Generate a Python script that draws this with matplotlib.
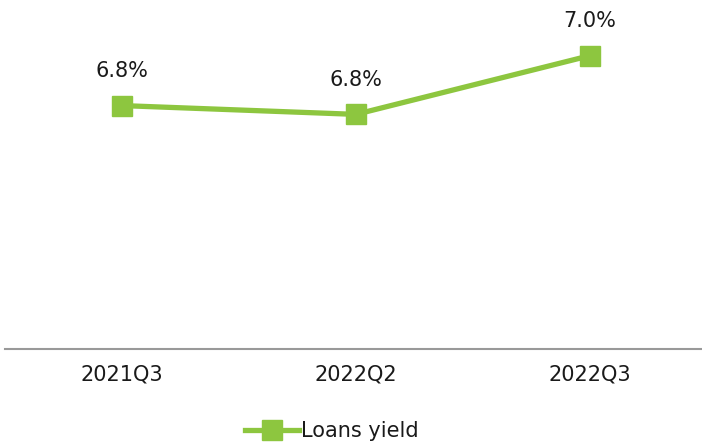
import matplotlib.pyplot as plt
from matplotlib import font_manager

quarters = ['2021Q3', '2022Q2', '2022Q3']
loans_yield = [6.83, 6.80, 7.00]
labels = ['6.8%', '6.8%', '7.0%']

names = {f.name for f in font_manager.fontManager.ttflist}
family = ['Liberation Sans Narrow', 'DejaVu Sans'] if 'Liberation Sans Narrow' in names else ['DejaVu Sans']
plt.rcParams['font.family'] = family

green = '#8DC63F'

fig = plt.figure(figsize=(7.02, 4.42), dpi=100)
ax = fig.add_axes([5 / 702, 1 - 349 / 442, 1 - 5 / 702, 349 / 442])

x = range(len(quarters))
line, = ax.plot(x, loans_yield, color=green, lw=3.8, marker='s', ms=14.5,
                label='Loans yield')

for xi, v, lab in zip(x, loans_yield, labels):
    ax.annotate(lab, (xi, v), xytext=(0, 25), textcoords='offset points',
                ha='center', va='center', fontsize=15, color='#1a1a1a')

ax.set_xlim(-0.5, 2.48)
ax.set_ylim(6.0, 7.19)
ax.set_xticks(list(x))
ax.set_xticklabels(quarters, fontsize=15, color='#1a1a1a')
ax.tick_params(axis='x', length=0, pad=11)
ax.set_yticks([])
for side in ['top', 'right', 'left']:
    ax.spines[side].set_visible(False)
ax.spines['bottom'].set_color('#999999')
ax.spines['bottom'].set_linewidth(1.5)

fig.legend(handles=[line], loc='center', bbox_to_anchor=(332 / 702, 1 - 431 / 442),
           frameon=False, fontsize=15, handlelength=2.6, handletextpad=0.1,
           labelcolor='#1a1a1a')

fig.savefig('out.png', dpi=100)
